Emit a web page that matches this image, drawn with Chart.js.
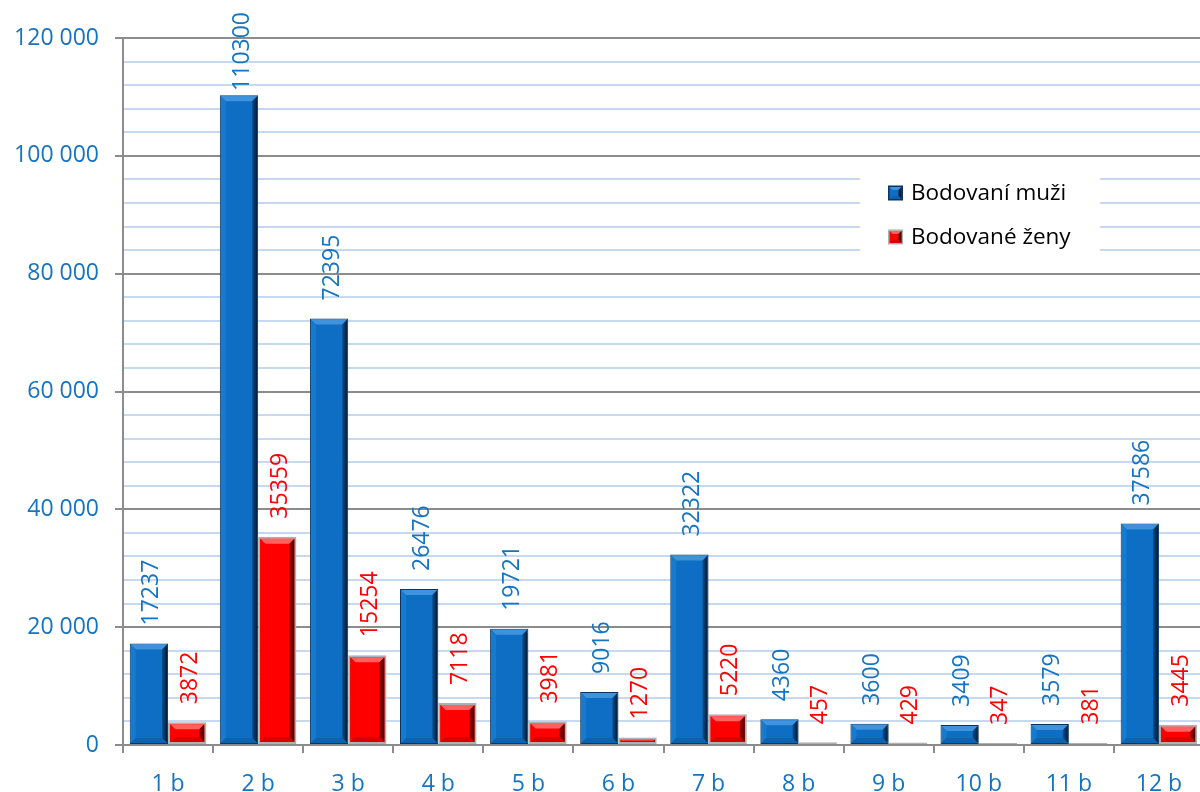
<!DOCTYPE html>
<html>
<head>
<meta charset="utf-8">
<script src="https://cdn.jsdelivr.net/npm/chart.js@4.4.0/dist/chart.umd.min.js"></script>
<style>
  html, body { margin: 0; padding: 0; background: #fff; overflow: hidden; }
  canvas { display: block; }
</style>
</head>
<body>
<canvas id="chart" width="1204" height="792"></canvas>
<script>
var categories = ['1 b', '2 b', '3 b', '4 b', '5 b', '6 b', '7 b', '8 b', '9 b', '10 b', '11 b', '12 b'];
var menValues = [17237, 110300, 72395, 26476, 19721, 9016, 32322, 4360, 3600, 3409, 3579, 37586];
var womenValues = [3872, 35359, 15254, 7118, 3981, 1270, 5220, 457, 429, 347, 381, 3445];
var seriesNames = ['Bodovaní muži', 'Bodované ženy'];
var yTicks = [0, 20000, 40000, 60000, 80000, 100000, 120000];

var FONT = "'Open Sans', 'Noto Sans', sans-serif";
var BLUE_TEXT = '#1474C4';
var RED_TEXT = '#FF0000';

var styles = [
    { face: '#0D6EC4', top: '#3F92DC', left: '#167ACF', right1: '#0B4F8F', right2: '#041C36', bottom: '#0B62AE', border: '#0B3560', text: BLUE_TEXT },
    { face: '#FF0000', top: '#FF6060', left: '#FA0000', right1: '#A00000', right2: '#4A0000', bottom: '#D80000', border: '#B0B0B0', text: RED_TEXT }
];

function fmt(v) {
    return String(v).replace(/\B(?=(\d{3})+(?!\d))/g, ' ');
}

function poly(ctx, pts, fill) {
    ctx.beginPath();
    ctx.moveTo(pts[0][0], pts[0][1]);
    for (var i = 1; i < pts.length; i++) ctx.lineTo(pts[i][0], pts[i][1]);
    ctx.closePath();
    ctx.fillStyle = fill;
    ctx.fill();
}

// bevel look + rotated value labels
var barDecor = {
    id: 'barDecor',
    afterDatasetsDraw: function (chart) {
        var ctx = chart.ctx;
        chart.data.datasets.forEach(function (ds, di) {
            var st = styles[di];
            var meta = chart.getDatasetMeta(di);
            meta.data.forEach(function (el, i) {
                var p = el.getProps(['x', 'y', 'base', 'width'], true);
                var inset = di === 0 ? 1 : 2;
                var L = p.x - p.width / 2 + inset, R = p.x + p.width / 2 - inset;
                var T = Math.min(p.y, p.base) + inset, B = Math.max(p.y, p.base) - inset;
                var b = Math.min(5, (B - T) / 2, (R - L) / 2);
                if (b > 0.5) {
                    ctx.save();
                    poly(ctx, [[L, T], [R, T], [R - b, T + b], [L + b, T + b]], st.top);
                    poly(ctx, [[L, T], [L + b, T + b], [L + b, B - b], [L, B]], st.left);
                    var g = ctx.createLinearGradient(R - b, 0, R, 0);
                    g.addColorStop(0, st.right1);
                    g.addColorStop(1, st.right2);
                    poly(ctx, [[R, T], [R, B], [R - b, B - b], [R - b, T + b]], g);
                    poly(ctx, [[L, B], [R, B], [R - b, B - b], [L + b, B - b]], st.bottom);
                    ctx.restore();
                }
                // value label
                var txt = String(ds.data[i]);
                ctx.save();
                ctx.font = '23px ' + FONT;
                var w = ctx.measureText(txt).width;
                var ay = Math.max(Math.min(p.y, p.base) - 18, 12 + w);
                ctx.translate(p.x + 2, ay);
                ctx.rotate(-Math.PI / 2);
                ctx.fillStyle = st.text;
                ctx.textAlign = 'left';
                ctx.textBaseline = 'middle';
                ctx.fillText(txt, 0, 1);
                ctx.restore();
            });
        });
    }
};

// legend drawn inside the plot
var innerLegend = {
    id: 'innerLegend',
    afterDraw: function (chart) {
        var ctx = chart.ctx;
        ctx.save();
        ctx.fillStyle = '#ffffff';
        ctx.fillRect(860, 166, 240, 96);
        seriesNames.forEach(function (name, i) {
            var st = styles[i];
            var cy = 193 + i * 44;
            var x0 = 888, s = 15;
            ctx.fillStyle = st.border;
            ctx.fillRect(x0, cy - s / 2, s, s);
            ctx.fillStyle = st.face;
            ctx.fillRect(x0 + 1.5, cy - s / 2 + 1.5, s - 3, s - 3);
            var L = x0 + 1.5, R = x0 + s - 1.5, T = cy - s / 2 + 1.5, B = cy + s / 2 - 1.5, b = 3;
            poly(ctx, [[L, T], [R, T], [R - b, T + b], [L + b, T + b]], st.top);
            poly(ctx, [[R, T], [R, B], [R - b, B - b], [R - b, T + b]], st.right2);
            poly(ctx, [[L, B], [R, B], [R - b, B - b], [L + b, B - b]], st.bottom);
            ctx.fillStyle = '#000000';
            ctx.font = '22.5px ' + FONT;
            ctx.textAlign = 'left';
            ctx.textBaseline = 'middle';
            ctx.fillText(name, 911, cy + 1);
        });
        ctx.restore();
    }
};

new Chart(document.getElementById('chart').getContext('2d'), {
    type: 'bar',
    data: {
        labels: categories,
        datasets: [{
            label: seriesNames[0],
            data: menValues,
            backgroundColor: styles[0].face,
            borderColor: styles[0].border,
            borderWidth: 1,
            borderSkipped: false
        }, {
            label: seriesNames[1],
            data: womenValues,
            backgroundColor: styles[1].face,
            borderColor: styles[1].border,
            borderWidth: 2,
            borderSkipped: false
        }]
    },
    options: {
        responsive: false,
        animation: false,
        devicePixelRatio: 1,
        layout: { padding: { top: 38, right: 0, left: 0, bottom: 0 } },
        plugins: {
            legend: { display: false },
            tooltip: { enabled: false }
        },
        datasets: {
            bar: { categoryPercentage: 0.85, barPercentage: 1 }
        },
        scales: {
            x: {
                grid: {
                    drawOnChartArea: false,
                    drawTicks: true,
                    tickLength: 8,
                    color: '#8C8C8C',
                    lineWidth: 2
                },
                border: { color: '#8C8C8C', width: 2 },
                ticks: {
                    color: BLUE_TEXT,
                    font: { family: FONT, size: 23 },
                    padding: 18,
                    maxRotation: 0
                },
                afterFit: function (scale) { scale.height = 47; }
            },
            y: {
                min: yTicks[0],
                max: yTicks[yTicks.length - 1],
                grid: {
                    color: function (c) { return c.tick.value % 20000 === 0 ? '#8C8C8C' : '#C6D9F0'; },
                    tickColor: function (c) { return c.tick.value % 20000 === 0 ? '#8C8C8C' : 'rgba(0,0,0,0)'; },
                    lineWidth: 2,
                    tickLength: 8
                },
                border: { color: '#8C8C8C', width: 2 },
                ticks: {
                    stepSize: 4000,
                    autoSkip: false,
                    color: BLUE_TEXT,
                    font: { family: FONT, size: 23 },
                    padding: 16,
                    callback: function (v) { return yTicks.indexOf(v) >= 0 ? fmt(v) : ''; }
                },
                afterFit: function (scale) { scale.width = 123; }
            }
        }
    },
    plugins: [barDecor, innerLegend]
});
</script>
</body>
</html>
